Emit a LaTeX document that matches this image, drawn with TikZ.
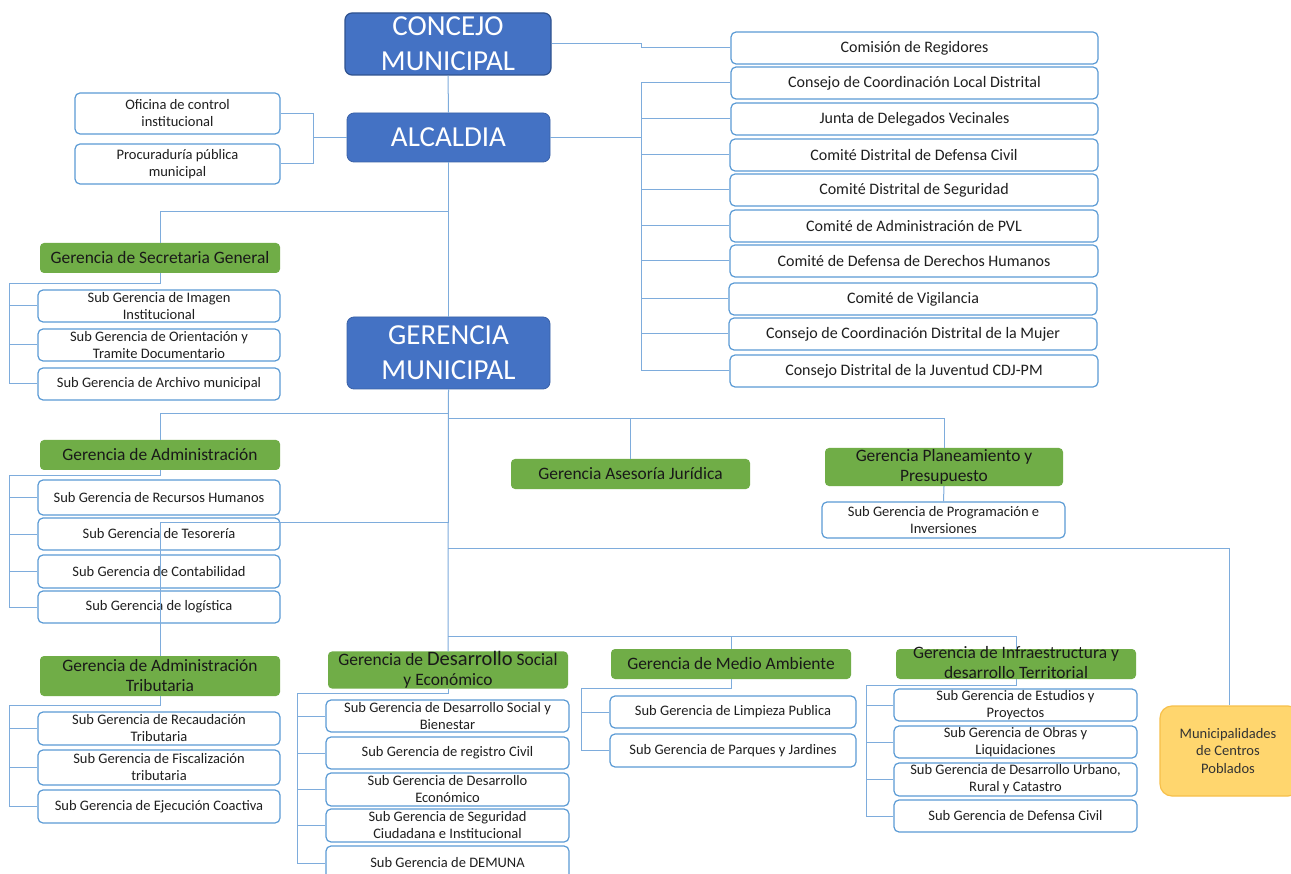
\documentclass[tikz,border=0pt]{standalone}
\usepackage{fontspec}
\setmainfont{Carlito}
\usetikzlibrary{calc}
\definecolor{hdblue}{HTML}{4472C4}
\definecolor{hdedge}{HTML}{2F528F}
\definecolor{subedge}{HTML}{5B9BD5}
\definecolor{linkblue}{HTML}{7EACDC}
\definecolor{mgreen}{HTML}{70AD47}
\definecolor{cpfill}{HTML}{FFD66E}
\definecolor{cpedge}{HTML}{F7C04A}
% box given by its corners (x1,y1)-(x2,y2), y growing downwards
\newcommand\orgbox[7]{\node[#2, minimum width={#5pt-#3pt}, minimum height={#6pt-#4pt}] (#1) at ({(#3+#5)/2},{(#4+#6)/2}) {#7};}
\begin{document}
\begin{tikzpicture}[x=1pt,y=-1pt,
  bigbox/.style={fill=hdblue, draw=hdblue!85!black, line width=0.8pt, rounded corners=7pt, text=white,
    inner sep=0pt, align=center, font=\fontsize{29}{35}\selectfont},
  subbox/.style={fill=white, draw=subedge, line width=1.2pt, rounded corners=5pt, inner sep=0pt,
    align=center, text=black!88, font=\fontsize{14.5}{17}\selectfont},
  rightbox/.style={subbox, font=\fontsize{16}{19}\selectfont},
  greenbox/.style={fill=mgreen, draw=none, rounded corners=4pt, inner sep=0pt, align=center,
    text=black!90, font=\fontsize{17.4}{20}\selectfont},
  link/.style={draw=linkblue, line width=1pt},
]
\useasboundingbox (0,0) rectangle (1291,874);
\clip (0,0) rectangle (1291,874);
\fill[white] (0,0) rectangle (1291,874);

% ---------- top level ----------
\orgbox{concejo}{bigbox, draw=hdedge, line width=1.2pt}{345}{13}{551}{75}{CONCEJO\\MUNICIPAL}
\orgbox{alcaldia}{bigbox}{347}{113}{550}{162}{ALCALDIA}
\orgbox{oci}{subbox}{75}{93}{280}{134}{Oficina de control\\institucional}
\orgbox{proc}{subbox}{75}{144}{280}{184}{Procuraduría pública\\municipal}

% ---------- committees on the right ----------
\orgbox{r1}{rightbox}{731}{32}{1098}{64}{Comisión de Regidores}
\orgbox{r2}{rightbox}{731}{67}{1098}{99}{Consejo de Coordinación Local Distrital}
\orgbox{r3}{rightbox}{731}{103}{1098}{135}{Junta de Delegados Vecinales}
\orgbox{r4}{rightbox}{730}{139}{1098}{171}{Comité Distrital de Defensa Civil}
\orgbox{r5}{rightbox}{730}{174}{1098}{206}{Comité Distrital de Seguridad}
\orgbox{r6}{rightbox}{730}{210}{1098}{242}{Comité de Administración de PVL}
\orgbox{r7}{rightbox}{730}{245}{1098}{277}{Comité de Defensa de Derechos Humanos}
\orgbox{r8}{rightbox}{729}{283}{1097}{315}{Comité de Vigilancia}
\orgbox{r9}{rightbox}{729}{318}{1097}{350}{Consejo de Coordinación Distrital de la Mujer}
\orgbox{r10}{rightbox}{730}{355}{1098}{387}{Consejo Distrital de la Juventud CDJ-PM}

% ---------- Secretaría General ----------
\orgbox{sec}{greenbox}{40}{243}{280}{273}{Gerencia de Secretaria General}
\orgbox{s1}{subbox}{38}{290}{280}{322}{Sub Gerencia de Imagen\\Institucional}
\orgbox{s2}{subbox}{38}{329}{280}{361}{Sub Gerencia de Orientación y\\Tramite Documentario}
\orgbox{s3}{subbox}{38}{368}{280}{400}{Sub Gerencia de Archivo municipal}

\orgbox{gm}{bigbox}{347}{317}{550}{389}{GERENCIA\\MUNICIPAL}

% ---------- Administración ----------
\orgbox{adm}{greenbox}{40}{440}{280}{470}{Gerencia de Administración}
\orgbox{a1}{subbox}{38}{480}{280}{515}{Sub Gerencia de Recursos Humanos}
\orgbox{a2}{subbox}{38}{518}{280}{550}{Sub Gerencia de Tesorería}
\orgbox{a3}{subbox}{38}{555}{280}{588}{Sub Gerencia de Contabilidad}
\orgbox{a4}{subbox}{38}{591}{280}{623}{Sub Gerencia de logística}

% ---------- Asesoría y Planeamiento ----------
\orgbox{ase}{greenbox}{511}{459}{750}{489}{Gerencia Asesoría Jurídica}
\orgbox{plan}{greenbox}{825}{448}{1063}{486}{Gerencia Planeamiento y\\Presupuesto}
\orgbox{prog}{subbox}{822}{502}{1065}{538}{Sub Gerencia de Programación e\\Inversiones}

% ---------- Administración Tributaria ----------
\orgbox{trib}{greenbox}{40}{656}{280}{696}{Gerencia de Administración\\Tributaria}
\orgbox{t1}{subbox}{38}{712}{280}{745}{Sub Gerencia de Recaudación\\Tributaria}
\orgbox{t2}{subbox}{38}{750}{280}{785}{Sub Gerencia de Fiscalización\\tributaria}
\orgbox{t3}{subbox}{38}{790}{280}{823}{Sub Gerencia de Ejecución Coactiva}

% ---------- Desarrollo Social y Económico ----------
\orgbox{desa}{greenbox}{328}{652}{568}{688}{Gerencia de {\fontsize{20.5}{20}\selectfont Desarrollo} Social\\y Económico}
\orgbox{d1}{subbox}{326}{700}{569}{732}{Sub Gerencia de Desarrollo Social y\\Bienestar}
\orgbox{d2}{subbox}{326}{737}{569}{769}{Sub Gerencia de registro Civil}
\orgbox{d3}{subbox}{326}{773}{569}{806}{Sub Gerencia de Desarrollo\\Económico}
\orgbox{d4}{subbox}{326}{809}{569}{842}{Sub Gerencia de Seguridad\\Ciudadana e Institucional}
\orgbox{d5}{subbox}{326}{846}{569}{880}{Sub Gerencia de DEMUNA}

% ---------- Medio Ambiente ----------
\orgbox{med}{greenbox}{611}{649}{851}{679}{Gerencia de Medio Ambiente}
\orgbox{m1}{subbox}{610}{696}{856}{728}{Sub Gerencia de Limpieza Publica}
\orgbox{m2}{subbox}{610}{734}{856}{767}{Sub Gerencia de Parques y Jardines}

% ---------- Infraestructura ----------
\orgbox{inf}{greenbox}{896}{649}{1136}{679}{}
\node[font=\fontsize{17.4}{20}\selectfont, align=center, text=black!90, inner sep=0pt] (inftext) at (1016,663) {Gerencia de Infraestructura y\\desarrollo Territorial};
\orgbox{i1}{subbox}{894}{689}{1137}{721}{Sub Gerencia de Estudios y\\Proyectos}
\orgbox{i2}{subbox}{894}{726}{1137}{758}{Sub Gerencia de Obras y\\Liquidaciones}
\orgbox{i3}{subbox}{894}{763}{1137}{796}{Sub Gerencia de Desarrollo Urbano,\\Rural y Catastro}
\orgbox{i4}{subbox}{894}{800}{1137}{832}{Sub Gerencia de Defensa Civil}

% ---------- Centros Poblados ----------
\orgbox{mun}{fill=cpfill, draw=cpedge, line width=1.2pt, rounded corners=12pt}{1160}{706}{1300}{796}{}
\node[font=\fontsize{14.5}{17.5}\selectfont, align=center, text=black!80, inner sep=0pt] (muntext) at (1228,751) {Municipalidades\\de Centros\\Poblados};

% ---------- connector guide columns and branch points ----------
\coordinate (colR) at (641,0);
\coordinate (colA) at (313,0);
\coordinate (colL) at (9,0);
\coordinate (colD) at (297,0);
\coordinate (colM) at (581,0);
\coordinate (colI) at (866,0);
\coordinate (colP) at (1229,0);
\coordinate (hSec) at (448,212);
\coordinate (hAdm) at (448,414);
\coordinate (hAse) at (448,419);
\coordinate (hTrib) at (448,522);
\coordinate (hMun) at (448,548);
\coordinate (hMed) at (448,636);

% council and mayor
\draw[link] (concejo.south) -- (alcaldia.north);
\draw[link] (concejo.east) -- (concejo.east -| colR) -- (colR |- r1.west) -- (r1.west);
\draw[link] (alcaldia.east) -- (alcaldia.east -| colR);
\draw[link] (colR |- r2.west) -- (colR |- r10.west);
\foreach \r in {r2,r3,r4,r5,r6,r7,r8,r9,r10}
  \draw[link] (colR |- \r.west) -- (\r.west);
\draw[link] (oci.east) -| (colA |- proc.east) -- (proc.east);
\draw[link] (alcaldia.west) -- (alcaldia.west -| colA);

% main trunk
\draw[link] (alcaldia.south) -- (gm.north);
\draw[link] (gm.south) -- (desa.north);
\draw[link] (hSec) -| (sec.north);

% Secretaría General
\draw[link] (sec.south) -- ++(0,10) -| (colL |- s3.west) -- (s3.west);
\foreach \s in {s1,s2} \draw[link] (colL |- \s.west) -- (\s.west);

% Administración
\draw[link] (hAdm) -| (adm.north);
\draw[link] (adm.south) -- ++(0,5) -| (colL |- a4.west) -- (a4.west);
\foreach \s in {a1,a2,a3} \draw[link] (colL |- \s.west) -- (\s.west);

% Asesoría and Planeamiento
\draw[link] (hAse) -| (ase.north);
\draw[link] (hAse) -| (plan.north);
\draw[link] (plan.south) -- (prog.north);

% Administración Tributaria (its line crosses the Administración boxes)
\draw[link] (hTrib) -| (trib.north);
\draw[link] (trib.south) -- ++(0,9) -| (colL |- t3.west) -- (t3.west);
\foreach \s in {t1,t2} \draw[link] (colL |- \s.west) -- (\s.west);

% Centros Poblados
\draw[link] (hMun) -| (colP |- mun.north);

% Desarrollo Social, Medio Ambiente, Infraestructura
\draw[link] (hMed) -| (med.north);
\draw[link] (hMed) -| (inf.north);
\draw[link] (desa.south) -- ++(0,5) -| (colD |- d5.west) -- (d5.west);
\foreach \s in {d1,d2,d3,d4} \draw[link] (colD |- \s.west) -- (\s.west);
\draw[link] (med.south) -- ++(0,9) -| (colM |- m2.west) -- (m2.west);
\draw[link] (colM |- m1.west) -- (m1.west);
\draw[link] (inf.south) -- ++(0,6) -| (colI |- i4.west) -- (i4.west);
\foreach \s in {i1,i2,i3} \draw[link] (colI |- \s.west) -- (\s.west);
\end{tikzpicture}
\end{document}
